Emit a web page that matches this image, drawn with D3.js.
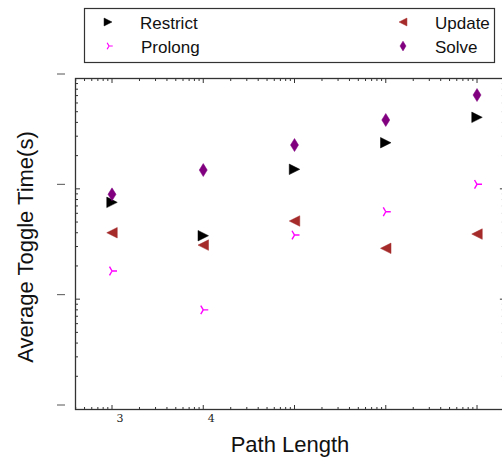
<!DOCTYPE html>
<html>
<head>
<meta charset="utf-8">
<script src="https://cdn.jsdelivr.net/npm/d3@7/dist/d3.min.js"></script>
<style>
  body { margin: 0; background: #fff; }
  svg { display: block; }
</style>
</head>
<body>
<div id="chart"></div>
<script>
// Path length on x, toggle time (s) on a log y axis
const pathLengths = [3, 4, 5, 6, 7];
const restrictTimes = [0.00754, 0.00376, 0.01502, 0.02618, 0.04448];
const updateTimes = [0.00400, 0.00309, 0.00511, 0.00289, 0.00389];
const prolongTimes = [0.00180, 0.00080, 0.00381, 0.00620, 0.01099];
const solveTimes = [0.00891, 0.01480, 0.02495, 0.04206, 0.07085];
const xTickLabels = ['3', '4'];

const width = 502, height = 457;
const svg = d3.select('#chart').append('svg')
  .attr('width', width)
  .attr('height', height);

const x = d3.scaleLinear().domain([2.6, 7.3]).range([75.5, 504.4]);
const y = d3.scaleLog().domain([1e-4, 1e-1]).range([409.5, 78.5]);

const plotLeft = x.range()[0], plotRight = x.range()[1];
const plotTop = y.range()[1], plotBottom = y.range()[0];

// Shapes
function triRight(s) { return `M${-s/2},${-s/2}L${s/2},0L${-s/2},${s/2}Z`; }
function triLeft(s) { return `M${s/2},${-s/2}L${-s/2},0L${s/2},${s/2}Z`; }
function diamond(w, h) { return `M0,${-h}L${w},0L0,${h}L${-w},0Z`; }
function triArms(r) {
  const a = 2 * Math.PI / 3;
  return `M0,0L${r},0M0,0L${r*Math.cos(a)},${-r*Math.sin(a)}M0,0L${r*Math.cos(a)},${r*Math.sin(a)}`;
}

const series = [
  { name: 'Restrict', values: restrictTimes, color: '#000000', path: s => triRight(10.5 * s), fill: true },
  { name: 'Update', values: updateTimes, color: '#a52a2a', path: s => triLeft(10.5 * s), fill: true },
  { name: 'Prolong', values: prolongTimes, color: '#ff00ff', path: s => triArms(5 * s), fill: false },
  { name: 'Solve', values: solveTimes, color: '#800080', path: s => diamond(4 * s, 6.5 * s), fill: true }
];

// Ticks
const ticks = svg.append('g').attr('stroke', '#333').attr('stroke-width', 1);

const xMajors = d3.range(3, 8);
const xMinors = [];
for (let k = 2; k <= 7; k++) {
  for (let m = 2; m <= 9; m++) {
    const v = k + Math.log10(m);
    if (v > x.domain()[0] && v < x.domain()[1]) xMinors.push(v);
  }
}
const yMajors = [1e-3, 1e-2];
const yMinors = [];
for (let e = -4; e <= -2; e++) {
  for (let m = 2; m <= 9; m++) yMinors.push(m * Math.pow(10, e));
}

// bottom & top ticks (inside)
xMinors.forEach(v => {
  ticks.append('line').attr('x1', x(v)).attr('x2', x(v)).attr('y1', plotBottom).attr('y2', plotBottom - 2.5);
  ticks.append('line').attr('x1', x(v)).attr('x2', x(v)).attr('y1', plotTop).attr('y2', plotTop + 2.5);
});
xMajors.forEach(v => {
  ticks.append('line').attr('x1', x(v)).attr('x2', x(v)).attr('y1', plotBottom).attr('y2', plotBottom - 4.5);
  ticks.append('line').attr('x1', x(v)).attr('x2', x(v)).attr('y1', plotTop).attr('y2', plotTop + 4.5);
});
// left & right ticks (inside)
yMinors.forEach(v => {
  ticks.append('line').attr('x1', plotLeft).attr('x2', plotLeft + 2.5).attr('y1', y(v)).attr('y2', y(v));
  ticks.append('line').attr('x1', plotRight).attr('x2', plotRight - 2.5).attr('y1', y(v)).attr('y2', y(v));
});
yMajors.forEach(v => {
  ticks.append('line').attr('x1', plotLeft).attr('x2', plotLeft + 4.5).attr('y1', y(v)).attr('y2', y(v));
  ticks.append('line').attr('x1', plotRight).attr('x2', plotRight - 4.5).attr('y1', y(v)).attr('y2', y(v));
});

// outer dash marks left of the y axis
[1e-4, 1e-3, 1e-2, 1e-1].forEach(v => {
  svg.append('line')
    .attr('x1', 57).attr('x2', 65)
    .attr('y1', y(v) - 4.5).attr('y2', y(v) - 4.5)
    .attr('stroke', '#555').attr('stroke-width', 1);
});

// spines
svg.append('rect')
  .attr('x', plotLeft).attr('y', plotTop)
  .attr('width', plotRight - plotLeft).attr('height', plotBottom - plotTop)
  .attr('fill', 'none').attr('stroke', '#333').attr('stroke-width', 1.3);

// x tick labels
svg.append('g').selectAll('text')
  .data(xTickLabels)
  .enter().append('text')
  .attr('x', d => x(+d) + 8)
  .attr('y', plotBottom + 12)
  .attr('text-anchor', 'middle')
  .attr('font-family', 'DejaVu Serif, Liberation Serif, serif')
  .attr('font-size', '11px')
  .attr('fill', '#222')
  .text(d => d);

// points
series.forEach(s => {
  svg.append('g').selectAll('path')
    .data(pathLengths.map((p, i) => [p, s.values[i]]))
    .enter().append('path')
    .attr('transform', d => `translate(${x(d[0])},${y(d[1])})`)
    .attr('d', s.path(1))
    .attr('fill', s.fill ? s.color : 'none')
    .attr('stroke', s.color)
    .attr('stroke-width', s.fill ? 0.5 : 1.4);
});

// axis labels
svg.append('text')
  .attr('x', 290).attr('y', 452)
  .attr('text-anchor', 'middle')
  .attr('font-family', 'Liberation Sans, Arial, sans-serif')
  .attr('font-size', '22px')
  .attr('fill', '#111')
  .text('Path Length');

svg.append('text')
  .attr('transform', 'translate(33,247) rotate(-90)')
  .attr('text-anchor', 'middle')
  .attr('font-family', 'Liberation Sans, Arial, sans-serif')
  .attr('font-size', '22px')
  .attr('fill', '#111')
  .text('Average Toggle Time(s)');

// legend
const legend = svg.append('g');
legend.append('rect')
  .attr('x', 84.5).attr('y', 8.5)
  .attr('width', 410).attr('height', 54)
  .attr('fill', '#fff').attr('stroke', '#333').attr('stroke-width', 1.2);

const legendPos = [[108, 22], [403, 22], [109, 46], [403, 46]];
series.forEach((s, i) => {
  const [lx, ly] = legendPos[i];
  legend.append('path')
    .attr('transform', `translate(${lx},${ly})`)
    .attr('d', s.path(0.75))
    .attr('fill', s.fill ? s.color : 'none')
    .attr('stroke', s.color)
    .attr('stroke-width', s.fill ? 0.5 : 1.2);
  legend.append('text')
    .attr('x', lx + 32).attr('y', ly + 6.5)
    .attr('font-family', 'Liberation Sans, Arial, sans-serif')
    .attr('font-size', '17px')
    .attr('fill', '#111')
    .text(s.name);
});
</script>
</body>
</html>
